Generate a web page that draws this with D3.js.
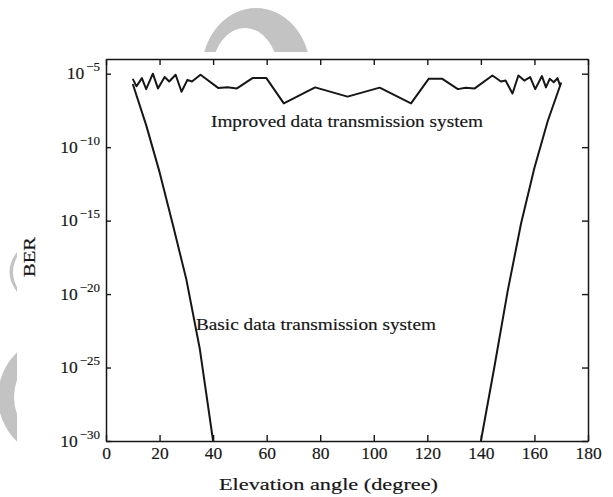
<!DOCTYPE html>
<html><head><meta charset="utf-8">
<script src="https://cdn.jsdelivr.net/npm/d3@7"></script>
<style>body{margin:0;background:#fff;} svg{display:block;}</style>
</head><body><svg id="c" width="613" height="497"></svg>
<script>
// ---- data ----
const xTicks = [0, 20, 40, 60, 80, 100, 120, 140, 160, 180];
const yTickExps = [-5, -10, -15, -20, -25, -30];
const xLabel = "Elevation angle (degree)";
const yLabel = "BER";
const improvedName = "Improved data transmission system";
const basicName = "Basic data transmission system";

// improved system: elevation angle (deg) and log10(BER)
const improvedAngle = [10, 11.4, 13.4, 15, 17.5, 19.4, 21.9, 23.6, 26, 28.2, 30.4, 32.1, 35.3, 42, 45.3, 48.9, 54.7, 59.9, 66.4, 78.1, 90.2, 102.2, 113.9, 120.5, 125.6, 131.4, 134.3, 137.7, 144.3, 147.5, 149.2, 151.8, 154, 156.2, 158.4, 160.3, 162.8, 164.3, 165.7, 167.2, 168.6, 169.7];
const improvedLogBER = [-5.35, -5.86, -5.3, -6.05, -5.0, -6.0, -5.23, -5.53, -5.07, -6.23, -5.42, -5.53, -5.07, -5.98, -5.93, -6.0, -5.3, -5.3, -7.02, -5.93, -6.56, -5.95, -7.02, -5.35, -5.35, -6.05, -5.95, -6.0, -5.12, -5.53, -5.47, -6.35, -5.12, -5.47, -5.23, -6.05, -5.16, -5.93, -5.35, -5.58, -5.3, -5.86];

// basic system: two branches
const basicLeftAngle = [10, 15, 20, 25, 30, 35, 40];
const basicLeftLogBER = [-5.7, -8.5, -11.7, -15.3, -19.0, -23.7, -30];
const basicRightAngle = [140, 145, 150, 155, 160, 165, 170];
const basicRightLogBER = [-30, -25.0, -19.8, -15.2, -11.4, -8.2, -5.6];

// ---- drawing ----
const svg = d3.select('#c');
const ink = '#161616';
const FONT = '"Liberation Serif", "DejaVu Serif", serif';

// watermark fragments (decorative)
const wm = '#c3c3c3';
const defs = svg.append('defs');
defs.append('clipPath').attr('id', 'clipTop').append('rect').attr('x', 0).attr('y', 0).attr('width', 613).attr('height', 52);
defs.append('clipPath').attr('id', 'clipLeft').append('rect').attr('x', 0).attr('y', 345).attr('width', 17).attr('height', 102);
const gTop = svg.append('g').attr('clip-path', 'url(#clipTop)');
gTop.append('ellipse').attr('cx', 256).attr('cy', 70).attr('rx', 54).attr('ry', 62).attr('fill', wm);
gTop.append('ellipse').attr('cx', 245).attr('cy', 72).attr('rx', 33).attr('ry', 44).attr('fill', '#fff');
const gLeft = svg.append('g').attr('clip-path', 'url(#clipLeft)');
gLeft.append('circle').attr('cx', 60).attr('cy', 397).attr('r', 62).attr('fill', wm);
gLeft.append('circle').attr('cx', 64).attr('cy', 397).attr('r', 50).attr('fill', '#fff');
svg.append('path').attr('d', 'M17,252 Q2,272 17,292 L17,287 Q9,272 17,257 Z').attr('fill', wm);

const x = d3.scaleLinear().domain([0, 180]).range([106, 588]);
const y = d3.scaleLog().domain([1e-30, 1e-4]).range([441, 59]);

const yTickVals = yTickExps.map(e => Math.pow(10, e));

function styleText(sel) {
  sel.attr('fill', ink).attr('font-family', FONT).attr('stroke', ink).attr('stroke-width', 0.18);
}
function styleAxis(g) {
  g.selectAll('path.domain').attr('stroke', ink).attr('stroke-width', 1.5);
  g.selectAll('.tick line').attr('stroke', ink).attr('stroke-width', 1.4);
  styleText(g.selectAll('text'));
}

// bottom axis
const gx = svg.append('g').attr('transform', `translate(0,${y.range()[0]})`)
  .call(d3.axisBottom(x).tickValues(xTicks).tickSize(-6).tickSizeOuter(0).tickPadding(6).tickFormat(d3.format('d')));
styleAxis(gx);
gx.selectAll('text').attr('font-size', 17.5);
// top axis
const gxt = svg.append('g').attr('transform', `translate(0,${y.range()[1]})`)
  .call(d3.axisTop(x).tickValues(xTicks).tickSize(-6).tickSizeOuter(0).tickFormat(''));
styleAxis(gxt);
// left axis
const gy = svg.append('g').attr('transform', `translate(${x.range()[0]},0)`)
  .call(d3.axisLeft(y).tickValues(yTickVals).tickSize(-5).tickSizeOuter(0).tickPadding(6).tickFormat(''));
styleAxis(gy);
gy.selectAll('.tick').each(function(d, i) {
  const t = d3.select(this).select('text');
  t.text(null).attr('dy', '0.3em').attr('font-size', 17.5);
  t.append('tspan').text('10');
  t.append('tspan').attr('font-size', 13).attr('dx', 2).attr('dy', -8).text('\u2212' + Math.abs(yTickExps[i]));
});
// right axis
const gyr = svg.append('g').attr('transform', `translate(${x.range()[1]},0)`)
  .call(d3.axisRight(y).tickValues(yTickVals).tickSize(-6).tickSizeOuter(0).tickFormat(''));
styleAxis(gyr);

// curves
const line = d3.line().x(d => x(d[0])).y(d => y(Math.pow(10, d[1])));
const improved = improvedAngle.map((a, i) => [a, improvedLogBER[i]]);
const basicL = basicLeftAngle.map((a, i) => [a, basicLeftLogBER[i]]);
const basicR = basicRightAngle.map((a, i) => [a, basicRightLogBER[i]]);
[basicL, basicR, improved].forEach(dat => {
  svg.append('path').datum(dat).attr('d', line).attr('fill', 'none')
    .attr('stroke', ink).attr('stroke-width', 2).attr('stroke-linejoin', 'round');
});

// annotations
const tImp = svg.append('text').attr('x', 347).attr('y', 127).attr('text-anchor', 'middle')
  .attr('font-size', 16.5).text(improvedName);
const tBas = svg.append('text').attr('x', 196).attr('y', 330).attr('text-anchor', 'start')
  .attr('font-size', 16.5).text(basicName);
styleText(tImp); styleText(tBas);
const wImp = tImp.node().getComputedTextLength();
const wBas = tBas.node().getComputedTextLength();
const k = 272 / wImp;
tImp.attr('textLength', 272).attr('lengthAdjust', 'spacingAndGlyphs');
tBas.attr('textLength', wBas * k).attr('lengthAdjust', 'spacingAndGlyphs');

// axis labels
const tx = svg.append('text').attr('x', 328.5).attr('y', 490).attr('text-anchor', 'middle')
  .attr('font-size', 17).attr('textLength', 219).attr('lengthAdjust', 'spacingAndGlyphs').text(xLabel);
styleText(tx);
const ty = svg.append('text').attr('transform', 'translate(35,257) rotate(-90)').attr('text-anchor', 'middle')
  .attr('font-size', 17.5).attr('textLength', 40).attr('lengthAdjust', 'spacingAndGlyphs').text(yLabel);
styleText(ty);
</script>
</body></html>
